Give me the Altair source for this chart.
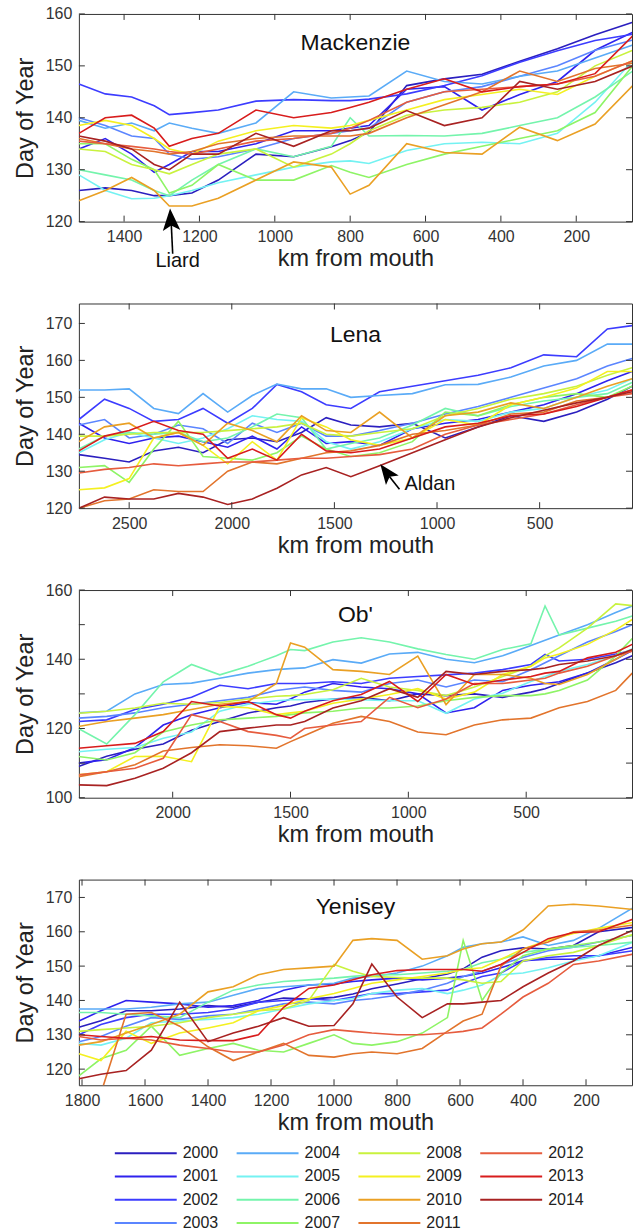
import altair as alt
import pandas as pd

YEARS = [str(y) for y in range(2000, 2015)]
COLORS = ["#2b1fbf", "#2f22ee", "#3c3cff", "#5b85ff", "#5aabf7", "#74f2f2", "#74f4ac",
          "#8ef466", "#c9f23e", "#f4f020", "#eaa024", "#e2742c", "#e65c3e", "#d81c1c", "#a82222"]

# ---------------- Mackenzie ----------------
MACK_KM = [1520, 1450, 1380, 1320, 1280, 1220, 1150, 1050, 950, 850, 800, 750, 650, 550, 450, 350, 250, 150, 50]
MACK = {
    2000: [126, 126.5, 126, 125, 125, 125.5, 128, 133, 132.5, 134.4, 135.6, 137.2, 146.2, 147.5, 148.4, 150.9, 153.3, 156, 158.4],
    2001: [134, 136, 133, 129.5, 131, 133.5, 133.5, 135, 137.5, 137.5, 138, 138.5, 145.5, 146, 141.5, 144.5, 147, 153, 156.5],
    2002: [146.5, 144.6, 144, 142.3, 140.6, 141, 141.5, 143.2, 143.5, 143.3, 143.3, 143.6, 144.6, 146.2, 148.1, 150.7, 152.9, 154.9, 156.1],
    2003: [140, 138.5, 136.5, 136, 133, 132, 132.5, 134, 136, 137, 137.5, 138, 143, 145, 146, 148, 150, 153, 155],
    2004: [139.5, 138, 139, 137.5, 139, 138, 137, 139, 145, 143.8, 144, 144.2, 149, 147, 146.5, 148, 149, 151.5, 154],
    2005: [129, 126, 124.4, 124.5, 125, 126, 127.5, 129, 130.5, 131.5, 131.7, 131.2, 133.7, 135, 135.3, 135, 137, 143, 151],
    2006: [130, 129, 128, 126, 125, 128, 131, 134, 132.5, 134.5, 140, 136.5, 136.6, 136.5, 137, 138.5, 140, 144, 149],
    2007: [135, 135, 132, 130, 125.5, 127, 131, 128, 128, 130.8, 129.5, 128.5, 131, 133, 134.5, 136, 137.5, 141, 150],
    2008: [134, 133.5, 131, 130, 129.2, 131, 133, 134, 130.5, 133, 135, 137.5, 140.5, 141.5, 142, 143, 145, 150, 153],
    2009: [138.5, 139.5, 138.5, 136, 134, 133, 135.5, 137.5, 138.5, 138, 138.5, 139.5, 141.5, 143.5, 144.5, 145.5, 144.5, 148, 151],
    2010: [124, 126, 128.5, 126, 123, 123, 124.5, 128, 131.5, 130.5, 125.3, 127, 135, 133.3, 133, 138.2, 135.6, 138.8, 146.2],
    2011: [136, 135, 134, 133.5, 133, 133.5, 135, 136, 136.5, 136.5, 136.5, 137, 140, 142.5, 145, 149, 147, 149.5, 150.5],
    2012: [135.5, 135, 134.5, 134, 133.5, 133, 134, 135.5, 136, 137, 138, 139.5, 143, 145, 145.5, 146, 146.5, 148, 151],
    2013: [137, 140, 140.5, 138, 134.5, 136, 137, 141.5, 140, 141, 142, 143, 145.5, 147.5, 145, 146, 146.5, 148.5, 155.8],
    2014: [136.5, 135.5, 134, 131, 130, 133, 133, 137, 134.5, 137.5, 137.5, 138, 141.4, 138.5, 140, 147, 145.5, 147, 150],
}
MACK_XTICKS = [1400, 1200, 1000, 800, 600, 400, 200]
MACK_YTICKS = [120, 130, 140, 150, 160]

# ---------------- Lena ----------------
LENA_KM = [2745, 2620, 2500, 2380, 2260, 2140, 2020, 1900, 1780, 1660, 1540, 1420, 1280, 1120, 960, 800, 640, 480, 320, 170, 50]
LENA = {
    2000: [134.5, 133.5, 132.5, 135.5, 136.5, 135, 138.5, 139, 138, 140.5, 144.5, 142.5, 142, 143, 139, 142, 145, 143.5, 146, 149.5, 153],
    2001: [143, 139, 137.5, 139, 139.5, 138, 136.5, 139.5, 136, 142, 137.5, 138, 137, 141.5, 143, 144, 146, 148, 151, 154.5, 157],
    2002: [144, 149.5, 147, 143.5, 144, 147, 143, 147, 153.5, 151.5, 148, 147, 151.5, 153, 154.5, 156, 158, 161.5, 161, 168.5, 169.4],
    2003: [142.5, 144, 139, 140, 142.5, 141.5, 137.5, 143, 140.5, 143, 139.5, 139.5, 141, 143, 145.5, 147.5, 150, 152.5, 155, 158.5, 160.5],
    2004: [152, 152, 152.3, 147, 145.6, 151, 146, 150.5, 153.6, 152.3, 152.3, 150, 150.5, 151, 153.4, 153.5, 155.5, 158.5, 160, 164.4, 164.4],
    2005: [135, 138.5, 140.5, 139, 137.5, 139, 141.5, 145, 144, 143.5, 138, 136, 138, 141.5, 144, 143.5, 146, 147, 150, 152, 155],
    2006: [136, 139.5, 140.5, 140, 140.5, 138, 139, 142, 145.5, 144.5, 136, 137.5, 139, 142.5, 147, 145, 147.5, 149, 150, 151, 154],
    2007: [131, 131.5, 127, 136, 143.5, 134, 133.5, 133, 135, 139.5, 136, 134, 135, 138, 146, 145, 148, 150, 151, 150, 153],
    2008: [139.5, 139.5, 140, 140.5, 140.5, 140.5, 141, 141.5, 142, 143, 140, 139.5, 140.5, 141.5, 145, 147, 149.5, 151, 153, 156, 158],
    2009: [125, 125.5, 128, 139, 140.5, 137, 132, 138, 133, 144.5, 142, 138.5, 137, 139, 144, 142.5, 148, 150, 152.5, 157, 157],
    2010: [138, 142, 143, 139, 140.5, 137, 143, 141, 138, 145, 141, 140.5, 146, 139, 145, 146, 148.5, 147, 150, 153, 155],
    2011: [120, 122, 122.5, 125, 124.5, 124.5, 130, 132.5, 132, 133.5, 135, 135.5, 137, 140, 141, 142.5, 145.5, 146, 149, 150, 152],
    2012: [129.5, 130.5, 131, 132, 131.5, 132, 132.5, 132.5, 133, 133.5, 133.5, 134, 134.5, 136, 140, 142.5, 144, 145.5, 148, 150, 151],
    2013: [135.5, 139.5, 141, 143.5, 141, 140, 133.5, 136, 133, 140, 135.5, 135, 136, 139, 142, 143, 145, 145.5, 147.5, 150, 152],
    2014: [120, 123, 122.5, 122.5, 124, 123, 121, 122.5, 125.4, 129, 131, 128.5, 131.5, 135, 138.5, 142, 144.5, 146.5, 148.5, 150, 151.5],
}
LENA_XTICKS = [2500, 2000, 1500, 1000, 500]
LENA_YTICKS = [120, 130, 140, 150, 160, 170]

# ---------------- Ob' ----------------
OB_KM = [2400, 2280, 2160, 2040, 1920, 1800, 1680, 1560, 1500, 1440, 1320, 1200, 1080, 960, 840, 720, 600, 480, 420, 360, 240, 120, 50]
OB = {
    2000: [109, 112, 114, 115.5, 119.5, 122, 124.5, 126, 126.5, 127.5, 128.5, 129, 128, 130, 129.5, 130, 129, 130.5, 131.5, 133, 136, 139, 141],
    2001: [110, 111, 114.5, 121, 124, 126, 127.5, 127, 128.5, 130.5, 133, 132, 131.5, 130, 124.5, 126, 131, 132.5, 133, 133.5, 136, 140, 142.5],
    2002: [122, 122.5, 125.5, 127, 129, 132.5, 131.5, 133, 133, 133, 133.5, 133, 134.5, 135, 135.5, 136, 137, 138.5, 141.4, 139.5, 140, 141.5, 142.5],
    2003: [123, 123.5, 124.5, 126, 127, 128, 129, 131, 131.5, 132, 131, 130.5, 133, 134, 132, 134, 133.5, 137, 139, 141, 145, 148, 150],
    2004: [124.5, 125, 130, 132.7, 133.1, 134.5, 136, 137, 137.3, 137.5, 139.9, 138.9, 141.5, 142, 140, 139, 141, 144, 145.5, 147, 150, 153.5, 155.4],
    2005: [113.3, 114, 114.5, 117.2, 119, 125, 127, 128, 128.3, 128.3, 128.5, 128.3, 128, 128, 124.4, 128.5, 130.2, 133.6, 135, 136.5, 138.5, 141, 143],
    2006: [120, 115.5, 124, 133.5, 138.5, 135.5, 138, 141, 142.8, 142.5, 145, 146.2, 145, 143, 141.4, 140, 142.8, 144.5, 155.4, 147, 149, 151, 152.5],
    2007: [111.9, 110.9, 113, 119, 121, 122.5, 123, 123.5, 124, 124.5, 125, 125.9, 125.9, 126.5, 128, 129, 129.5, 129.5, 130, 131, 134, 141, 146],
    2008: [124.4, 125, 125.9, 127.3, 127, 127.5, 128.5, 129.3, 129.5, 129.8, 131.2, 134.5, 132, 131, 129.5, 132, 135, 138, 141, 143.3, 149, 156, 155.5],
    2009: [106.6, 107.5, 111.9, 112, 110.4, 126.4, 126, 124, 124.5, 125, 127.3, 128.5, 129.8, 131.5, 128.5, 130.5, 135.6, 138, 140.4, 141.5, 144.3, 148.5, 151.5],
    2010: [120.6, 122, 123, 124, 125.5, 127, 127.8, 133, 144.7, 143.5, 137, 136.5, 135.6, 140.9, 126.9, 135.6, 135.6, 134.5, 133, 132.7, 135.6, 140, 142.8],
    2011: [106.1, 107.5, 109.5, 113.5, 114.5, 115.3, 115, 114.3, 116.2, 118, 121.5, 123.5, 122, 119, 118.2, 121, 122.5, 123, 124.5, 126, 127.8, 131, 136],
    2012: [106.6, 107.5, 108.5, 111.4, 124, 122, 119.1, 118, 117.2, 120, 121, 122, 129, 126, 128.5, 133, 133, 134, 134.5, 136, 138, 141, 142.3],
    2013: [114.3, 115, 115.7, 119.1, 127.8, 126.5, 127.8, 124, 123, 125, 128, 129.8, 133.6, 127.8, 135.6, 132.7, 134, 135, 136, 136.5, 140.4, 142, 144.3],
    2014: [103.7, 103.5, 105.6, 108.5, 113, 119.1, 120.1, 121, 121, 122, 125.9, 128, 131.5, 129, 136.5, 135.6, 136.5, 137, 137.5, 138.5, 139.5, 141, 142.8],
}
OB_XTICKS = [2000, 1500, 1000, 500]
OB_YTICKS = [100, 110, 120, 130, 140, 150, 160]

# ---------------- Yenisey ----------------
YEN_KM = [1810, 1740, 1660, 1580, 1490, 1400, 1320, 1240, 1160, 1080, 1000, 940, 880, 800, 720, 640, 590, 530, 470, 400, 320, 240, 160, 50]
YEN = {
    2000: [132.2, 134.1, 137, 137, 137.5, 138.5, 138, 139.5, 140.7, 140.4, 140.9, 141.9, 143.4, 144.8, 146.3, 147.7, 149.2, 152.6, 154.5, 155.3, 155, 156, 160, 161.3],
    2001: [134, 137, 140, 139.5, 139, 138, 138.5, 140, 143, 144.5, 144.8, 145.5, 146, 146.5, 146, 146.5, 147, 148, 149.5, 151.6, 152, 152, 153, 155.5],
    2002: [130, 133, 135, 136, 136, 136.5, 137.5, 139.5, 140, 140.5, 140, 141, 142, 142, 142.5, 143, 145, 147, 148, 151.5, 152.5, 153, 153, 154.5],
    2003: [128, 129.5, 132.5, 135, 134.5, 135.5, 136, 137.5, 139, 139.5, 139, 140, 140.5, 141.5, 143, 145, 147, 148.5, 150.5, 152.5, 154.5, 155.5, 157, 159],
    2004: [137.5, 137.5, 137.5, 138, 139, 139.5, 141.5, 143.5, 144, 144.5, 145, 146.5, 147, 148, 150, 153, 155.5, 156.5, 157, 158.5, 156, 157.5, 161, 167],
    2005: [127.5, 127, 129, 133.5, 134, 134.5, 135, 136, 137.5, 139, 140, 140.5, 142, 143, 143.5, 142, 143, 144.5, 147.5, 148, 149.5, 151.5, 153, 157],
    2006: [136.5, 136.5, 136, 135.5, 135, 139.5, 143, 144.5, 145.5, 146, 146.5, 147, 147.5, 147.5, 148, 148.5, 149, 151, 152, 154, 155, 155.5, 156, 157],
    2007: [118, 123, 125.5, 132.5, 124, 126, 127.5, 125.5, 125, 127.5, 130, 127.5, 127, 128, 130.5, 135, 157.5, 140, 148, 153, 155, 156, 157, 159],
    2008: [131, 131.5, 132, 132.5, 133.5, 135, 136, 137, 137.5, 140, 150.5, 148.5, 147, 146.7, 146.5, 146.5, 146, 145, 145.5, 151.5, 153, 154, 156, 159.3],
    2009: [124.5, 122.5, 131, 127.5, 130.5, 132, 133.5, 137, 138.5, 140.5, 142, 143.5, 145, 146, 147, 148, 149, 149.5, 152, 155, 157.5, 159.5, 161, 162.7],
    2010: [127, 128, 130.5, 133, 136, 142.5, 144, 147.5, 149, 149.5, 150, 157.5, 158, 157.5, 152, 153, 155, 156.5, 157, 160.5, 167.5, 168, 167.5, 166.5],
    2011: [105, 113, 136, 136.5, 132.5, 126.5, 122.5, 125, 127.5, 124, 123.5, 124.5, 125, 124.5, 126, 131, 134, 136, 150, 155, 157, 160, 160.5, 162],
    2012: [129.5, 128.5, 129, 128.5, 127, 126, 125, 125, 127, 130, 131.5, 131, 130.5, 130, 130, 130.5, 131, 132, 136, 141, 145, 150.5, 151.5, 153.5],
    2013: [130, 129.5, 129, 129.5, 128.5, 128.3, 128.3, 130, 138, 143.5, 144.5, 146, 147.5, 148.7, 149, 149, 149, 148.5, 150.5, 154, 158, 159.8, 160, 163.7],
    2014: [117.2, 118.5, 119.6, 125.5, 139.5, 128, 130.5, 132.5, 135, 132.5, 132.7, 139, 150.6, 141, 135, 139, 139, 139.5, 140, 144, 148, 151.5, 156, 160.5],
}
YEN_XTICKS = [1800, 1600, 1400, 1200, 1000, 800, 600, 400, 200]
YEN_YTICKS = [120, 130, 140, 150, 160, 170]

# annotations: [head_km, head_doy], [shaft km1, doy1, km2, doy2], [text km, text doy]
LIARD_HEAD = [1276, 120.4]
LIARD_SHAFT = [1275, 119.8, 1271, 113.8]
LIARD_TEXT = [1258, 112.5]
ALDAN_HEAD = [1247, 129.7]
ALDAN_SHAFT = [1232, 128.6, 1183, 125.1]
ALDAN_TEXT = [1159, 126.5]

FONT = "Liberation Sans"
W = 554
ARROW = "M0,-1L0.8,1L0,0.55L-0.8,1Z"

color = alt.Color("year:N", scale=alt.Scale(domain=YEARS, range=COLORS), legend=None)


def tidy(km, series):
    rows = []
    for yr in YEARS:
        for k, v in zip(km, series[int(yr)]):
            rows.append({"km": k, "doy": v, "year": yr})
    return pd.DataFrame(rows)


def annotation(xs, ys, head, shaft, text, label, angle, size, align):
    hx = alt.X("km:Q", scale=xs)
    hy = alt.Y("doy:Q", scale=ys)
    hd = alt.Chart(pd.DataFrame({"km": [head[0]], "doy": [head[1]]})).mark_point(
        shape=ARROW, filled=True, size=size, angle=angle, color="black", opacity=1, strokeWidth=0
    ).encode(x=hx, y=hy)
    sh = alt.Chart(pd.DataFrame({"km": [shaft[0]], "doy": [shaft[1]], "km2": [shaft[2]], "doy2": [shaft[3]]})).mark_rule(
        color="black", strokeWidth=1.6
    ).encode(x=hx, y=hy, x2="km2:Q", y2="doy2:Q")
    tx = alt.Chart(pd.DataFrame({"km": [text[0]], "doy": [text[1]], "t": [label]})).mark_text(
        align=align, baseline="middle", fontSize=20, color="#111", font=FONT
    ).encode(x=hx, y=hy, text="t:N")
    return [sh, hd, tx]


def panel(name, km, series, xdom, ydom, xticks, yticks, h, title_y, extra=None):
    xs = alt.Scale(domain=xdom, reverse=True, nice=False, zero=False)
    ys = alt.Scale(domain=ydom, nice=False, zero=False)
    lines = alt.Chart(tidy(km, series)).mark_line(clip=True, strokeWidth=1.6).encode(
        x=alt.X("km:Q", scale=xs, title="km from mouth",
                axis=alt.Axis(values=xticks, format="d", labelFlush=False, labelOverlap=False)),
        y=alt.Y("doy:Q", scale=ys, title="Day of Year",
                axis=alt.Axis(values=yticks, format="d", labelOverlap=False)),
        color=color,
    )
    yt = pd.DataFrame({"doy": yticks})
    xt = pd.DataFrame({"km": xticks})
    tl = alt.Chart(yt).mark_rule(color="#333").encode(y=alt.Y("doy:Q", scale=ys), x=alt.value(0), x2=alt.value(6))
    tr = alt.Chart(yt).mark_rule(color="#333").encode(y=alt.Y("doy:Q", scale=ys), x=alt.value(W - 6), x2=alt.value(W))
    tb = alt.Chart(xt).mark_rule(color="#333").encode(x=alt.X("km:Q", scale=xs), y=alt.value(h - 6), y2=alt.value(h))
    tt = alt.Chart(xt).mark_rule(color="#333").encode(x=alt.X("km:Q", scale=xs), y=alt.value(0), y2=alt.value(6))
    ttl = alt.Chart(pd.DataFrame({"t": [name]})).mark_text(
        fontSize=23, baseline="alphabetic", align="center", color="#111", font=FONT
    ).encode(text="t:N", x=alt.value(W / 2), y=alt.value(title_y))
    layers = [lines, tl, tr, tb, tt, ttl]
    if extra:
        layers += extra(xs, ys)
    return alt.layer(*layers).properties(width=W, height=h)


p1 = panel("Mackenzie", MACK_KM, MACK, [52, 1520], [120, 160], MACK_XTICKS, MACK_YTICKS, 208, 36,
           lambda xs, ys: annotation(xs, ys, LIARD_HEAD, LIARD_SHAFT, LIARD_TEXT, "Liard", 356, 484, "center"))
p2 = panel("Lena", LENA_KM, LENA, [50, 2745], [120, 175.4], LENA_XTICKS, LENA_YTICKS, 205, 39,
           lambda xs, ys: annotation(xs, ys, ALDAN_HEAD, ALDAN_SHAFT, ALDAN_TEXT, "Aldan", 323, 400, "left"))
p3 = panel("Ob'", OB_KM, OB, [51, 2398], [100, 160], OB_XTICKS, OB_YTICKS, 208, 32)
p4 = panel("Yenisey", YEN_KM, YEN, [54, 1810], [115.3, 175.2], YEN_XTICKS, YEN_YTICKS, 206, 34)

# legend laid out in 4 columns, filled column by column
leg = pd.DataFrame({"year": YEARS, "col": [i // 4 for i in range(15)], "row": [i % 4 for i in range(15)]})
lxs = alt.Scale(domain=[0, W / 122], nice=False, zero=False)
lys = alt.Scale(domain=[0.6, 3.003], reverse=True, nice=False, zero=False)
lrule = alt.Chart(leg).mark_rule(strokeWidth=2, xOffset=36, x2Offset=98).encode(
    x=alt.X("col:Q", scale=lxs, axis=None), x2="col:Q",
    y=alt.Y("row:Q", scale=lys, axis=None), color=color)
ltext = alt.Chart(leg).mark_text(align="left", baseline="middle", dx=104, fontSize=16, color="#222", font=FONT).encode(
    x=alt.X("col:Q", scale=lxs, axis=None), y=alt.Y("row:Q", scale=lys, axis=None), text="year:N")
legend = alt.layer(lrule, ltext).properties(width=W, height=56, view=alt.ViewBackground(strokeOpacity=0))

chart = alt.vconcat(p1, p2, p3, p4, legend, spacing=82, bounds="flush").properties(
    padding={"left": 12, "top": 4, "right": 5, "bottom": 0}
).configure_view(stroke="#333", strokeWidth=1).configure_axis(
    grid=False, domain=False, ticks=False, labelFont=FONT, titleFont=FONT,
    labelFontSize=16, titleFontSize=23.5, titleFontWeight="normal",
    labelColor="#333", titleColor="#222"
).configure_axisX(labelPadding=7, titlePadding=2).configure_axisY(labelPadding=7, titlePadding=8)

chart.save("out.html", embed_options={"renderer": "svg", "actions": False})
